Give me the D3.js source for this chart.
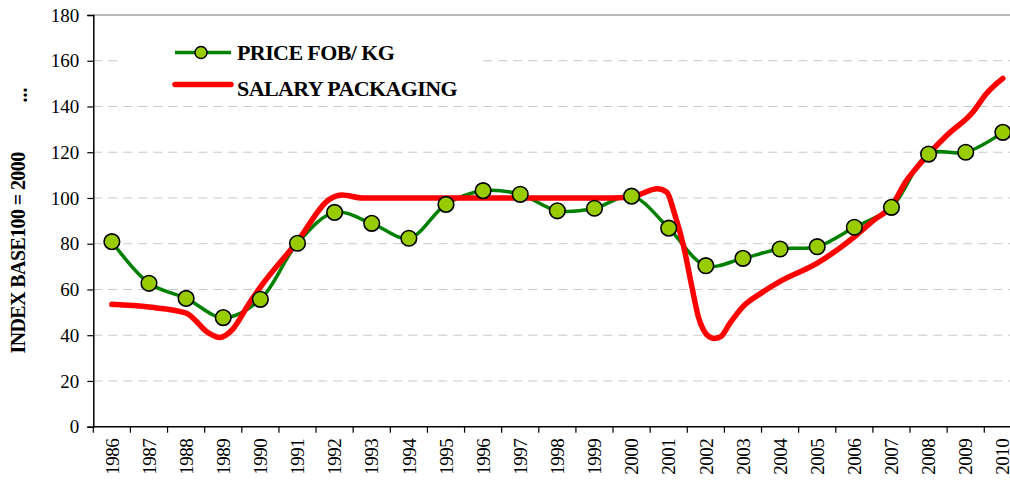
<!DOCTYPE html>
<html>
<head>
<meta charset="utf-8">
<script src="https://cdn.jsdelivr.net/npm/d3@7"></script>
<style>
body { margin: 0; background: #fff; }
svg { display: block; font-family: "Liberation Serif", "Times New Roman", serif; }
</style>
</head>
<body>
<script>
// yearly categories
var years = d3.range(1986, 2011).map(String);

// PRICE FOB/ KG, one value per year
var priceFob = [80.9, 62.7, 56.1, 47.7, 55.7, 80.2, 93.7, 88.9, 82.4, 97.2, 103.2, 101.6, 94.4,
                95.5, 100.8, 86.8, 70.4, 73.6, 77.7, 78.7, 87.2, 95.9, 119.2, 120.0, 128.7];

// SALARY PACKAGING, read at finer (fractional year) positions
var salaryYear = [1986, 1987, 1988, 1988.6, 1988.9, 1989.25, 1989.7, 1990, 1991, 1991.85, 1992.2,
                  1992.75, 1996, 1999.5, 2000.1, 2000.7, 2000.95, 2001.15, 2001.4, 2001.62, 2001.8,
                  2001.93, 2002.08, 2002.22, 2002.4, 2002.65, 2003, 2003.5, 2004, 2005, 2006, 2006.5, 2007,
                  2007.4, 2007.77, 2008.5, 2009.2, 2009.55, 2010];
var salaryPackaging = [53.5, 52.3, 49.7, 41, 39, 42.5, 54, 61, 81, 99.3, 101.3,
                       100, 100, 100, 101, 104, 102.5, 93.5, 79, 61.5, 48,
                       42.5, 39.4, 38.6, 39.4, 45.3, 52.5, 58.5, 63.5, 71.5, 83, 90, 96.5,
                       107.5, 115, 127.5, 137.7, 145.5, 152.3];

var yTicks = d3.range(0, 181, 20);
var seriesNames = ["PRICE FOB/ KG", "SALARY PACKAGING"];
var yTitle = "INDEX BASE100 = 2000";

var width = 1010, height = 480;
var plotL = 93.3, plotR = 1021.4, plotT = 15, plotB = 426.7;

var svg = d3.select("body").append("svg").attr("width", width).attr("height", height);

var x = d3.scaleBand().domain(years).range([plotL, plotR]).padding(0);
var bw = x.bandwidth();
var xYear = d3.scaleLinear().domain([1986, 2010]).range([x("1986") + bw / 2, x("2010") + bw / 2]);
var y = d3.scaleLinear().domain([0, 180]).range([plotB, plotT]);

// gridlines
svg.append("g").selectAll("line").data(yTicks.filter(function(d) { return d > 0 && d < 180; }))
    .enter().append("line")
    .attr("x1", plotL).attr("x2", plotR)
    .attr("y1", function(d) { return y(d); }).attr("y2", function(d) { return y(d); })
    .style("stroke", "#c8c8c8").style("stroke-width", 1).style("stroke-dasharray", "9,6");

// top border
svg.append("line").attr("x1", plotL).attr("x2", plotR).attr("y1", y(180)).attr("y2", y(180))
    .style("stroke", "#a0a0a0").style("stroke-width", 1.5);

// legend box (hides gridline behind it)
svg.append("rect").attr("x", 118).attr("y", 28).attr("width", 360).attr("height", 74).style("fill", "#fff");

// y axis
var yAxis = svg.append("g").attr("transform", "translate(" + plotL + ",0)")
    .call(d3.axisLeft(y).tickValues(yTicks).tickSize(6).tickPadding(8));
yAxis.select(".domain").style("stroke", "#000").style("stroke-width", 1.5);
yAxis.selectAll(".tick line").style("stroke", "#000").style("stroke-width", 1.2);
yAxis.selectAll("text").style("font-size", "19px").style("font-family", "Liberation Serif").style("fill", "#000");

// x axis: labels at band centres, ticks at band edges
var xAxis = svg.append("g").attr("transform", "translate(0," + plotB + ")")
    .call(d3.axisBottom(x).tickSize(0).tickPadding(0));
xAxis.select(".domain").remove();
xAxis.append("line").attr("x1", plotL).attr("x2", plotR).style("stroke", "#000").style("stroke-width", 1.5);
xAxis.selectAll(".tick text")
    .attr("transform", "rotate(-90)")
    .attr("x", -12).attr("y", 0).attr("dy", "0.35em")
    .style("text-anchor", "end")
    .style("font-size", "19px").style("letter-spacing", "-0.5px")
    .style("font-family", "Liberation Serif").style("fill", "#000");
xAxis.selectAll(".edge").data(years.concat(["end"])).enter().append("line")
    .attr("class", "edge")
    .attr("x1", function(d) { return d === "end" ? plotR : x(d); })
    .attr("x2", function(d) { return d === "end" ? plotR : x(d); })
    .attr("y1", 0).attr("y2", 6)
    .style("stroke", "#000").style("stroke-width", 1.2);

// y title
svg.append("text")
    .attr("transform", "translate(25,253) rotate(-90)")
    .style("text-anchor", "middle").style("font-weight", "bold")
    .style("font-size", "20px").style("letter-spacing", "-0.6px")
    .text(yTitle);
svg.append("text")
    .attr("transform", "translate(27,95) rotate(-90)")
    .style("text-anchor", "middle").style("font-weight", "bold")
    .style("font-size", "20px")
    .text("...");

// lines
var priceLine = d3.line()
    .x(function(d, i) { return x(years[i]) + bw / 2; })
    .y(function(d) { return y(d); })
    .curve(d3.curveCatmullRom.alpha(0.5));
var salaryLine = d3.line()
    .x(function(d, i) { return xYear(salaryYear[i]); })
    .y(function(d) { return y(d); })
    .curve(d3.curveMonotoneX);

svg.append("path").datum(priceFob).attr("d", priceLine)
    .style("fill", "none").style("stroke", "#008000").style("stroke-width", 3.5);
svg.append("path").datum(salaryPackaging).attr("d", salaryLine)
    .style("fill", "none").style("stroke", "#ff0000").style("stroke-width", 5.5)
    .style("stroke-linecap", "round").style("stroke-linejoin", "round");

svg.append("g").selectAll("circle").data(priceFob).enter().append("circle")
    .attr("cx", function(d, i) { return x(years[i]) + bw / 2; })
    .attr("cy", function(d) { return y(d); })
    .attr("r", 7.8)
    .style("fill", "#99cc00").style("stroke", "#000").style("stroke-width", 1.6);

// legend
var lg = svg.append("g");
lg.append("line").attr("x1", 175).attr("x2", 231).attr("y1", 52.5).attr("y2", 52.5)
    .style("stroke", "#008000").style("stroke-width", 3.5);
lg.append("circle").attr("cx", 201).attr("cy", 52.5).attr("r", 6)
    .style("fill", "#99cc00").style("stroke", "#000").style("stroke-width", 1.5);
lg.append("line").attr("x1", 175).attr("x2", 231).attr("y1", 84.5).attr("y2", 84.5)
    .style("stroke", "#ff0000").style("stroke-width", 5.5).style("stroke-linecap", "round");
lg.selectAll("text.lbl").data(seriesNames).enter().append("text")
    .attr("class", "lbl")
    .attr("x", 237).attr("y", function(d, i) { return i === 0 ? 60 : 96; })
    .style("font-weight", "bold").style("font-size", "22px").style("letter-spacing", "-0.6px")
    .text(function(d) { return d; });
</script>
</body>
</html>
